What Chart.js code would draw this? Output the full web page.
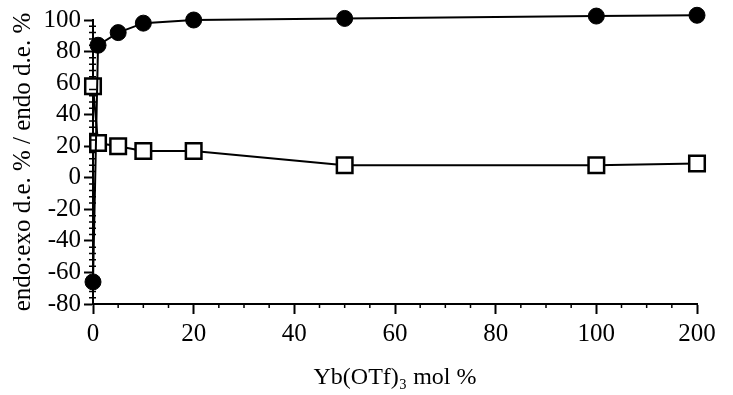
<!DOCTYPE html>
<html>
<head>
<meta charset="utf-8">
<script src="https://cdn.jsdelivr.net/npm/chart.js@4"></script>
<style>
  html, body { margin: 0; padding: 0; background: #fff; }
  #wrap { width: 733px; height: 395px; }
</style>
</head>
<body>
<div id="wrap"><canvas id="chart"></canvas></div>
<script>
// 数据
const molPercent = [0, 1, 5, 10, 20, 50, 100, 200];
const endoExoDe = [-66, 84, 92, 98, 100, 101, 102.5, 103];
const endoDe = [58, 22, 20, 17, 17, 8, 8, 9];
const xTickLabels = ['0', '20', '40', '60', '80', '100', '200'];
const yTickStep = 20;

// x 轴在 100 之后压缩（100 -> 200 画在 100 -> 120 的位置）
function toAxis(x) {
    return x <= 100 ? x : 100 + (x - 100) / 5;
}

function points(values) {
    return molPercent.map(function(x, i) {
        return { x: toAxis(x), y: values[i] };
    });
}

const serif = 'Liberation Serif, Times New Roman, serif';

// 小刻度
const minorTicks = {
    id: 'minorTicks',
    afterDraw: function(chart) {
        const ctx = chart.ctx;
        const xs = chart.scales.x;
        const ys = chart.scales.y;
        ctx.save();
        ctx.strokeStyle = '#000';
        ctx.lineWidth = 1.5;
        ctx.beginPath();
        for (let v = 0; v <= 120; v += 5) {
            if (v % 20 === 0) continue;
            const px = xs.getPixelForValue(v);
            ctx.moveTo(px, xs.top);
            ctx.lineTo(px, xs.top + 4);
        }
        for (let v = -80; v <= 100; v += 4) {
            if (v % 20 === 0) continue;
            const py = ys.getPixelForValue(v);
            ctx.moveTo(ys.right - 4, py);
            ctx.lineTo(ys.right + 3, py);
        }
        ctx.stroke();
        ctx.restore();
    }
};

new Chart(document.getElementById('chart'), {
    type: 'scatter',
    data: {
        datasets: [
            {
                label: 'endo:exo d.e. %',
                data: points(endoExoDe),
                showLine: true,
                clip: false,
                borderColor: '#000',
                borderWidth: 2,
                backgroundColor: '#000',
                pointStyle: 'circle',
                pointRadius: 8,
                pointBorderWidth: 1,
                pointBorderColor: '#000',
                pointBackgroundColor: '#000'
            },
            {
                label: 'endo d.e. %',
                data: points(endoDe),
                showLine: true,
                clip: false,
                borderColor: '#000',
                borderWidth: 2,
                backgroundColor: '#fff',
                pointStyle: 'rect',
                pointRadius: 11,
                pointBorderWidth: 2.5,
                pointBorderColor: '#000',
                pointBackgroundColor: '#fff'
            }
        ]
    },
    options: {
        responsive: true,
        maintainAspectRatio: false,
        animation: false,
        layout: { padding: { top: 20, right: 36, left: 0, bottom: 0 } },
        plugins: {
            legend: { display: false },
            tooltip: { enabled: false }
        },
        scales: {
            x: {
                type: 'linear',
                min: 0,
                max: 120,
                afterBuildTicks: function(scale) {
                    scale.ticks = xTickLabels.map(function(l, i) {
                        return { value: i * 20 };
                    });
                },
                afterFit: function(scale) {
                    scale.height = 91;
                },
                ticks: {
                    color: '#000',
                    font: { family: serif, size: 25 },
                    padding: 5,
                    maxRotation: 0,
                    autoSkip: false,
                    callback: function(value, index) {
                        return xTickLabels[index];
                    }
                },
                grid: {
                    drawOnChartArea: false,
                    tickLength: 10,
                    tickColor: '#000',
                    tickWidth: 2
                },
                border: { display: true, color: '#000', width: 2 },
                title: {
                    display: true,
                    text: 'Yb(OTf)\u2083 mol %',
                    color: '#000',
                    font: { family: serif, size: 24 },
                    padding: { top: 0, bottom: 3 }
                }
            },
            y: {
                type: 'linear',
                min: -80,
                max: 100,
                afterFit: function(scale) {
                    scale.width = 93;
                },
                ticks: {
                    stepSize: yTickStep,
                    color: '#000',
                    font: { family: serif, size: 25 },
                    padding: 3,
                    autoSkip: false
                },
                grid: {
                    drawOnChartArea: false,
                    tickLength: 9,
                    tickColor: '#000',
                    tickWidth: 2
                },
                border: { display: true, color: '#000', width: 2 },
                title: {
                    display: true,
                    text: 'endo:exo d.e. % / endo d.e. %',
                    color: '#000',
                    font: { family: serif, size: 25 },
                    padding: { top: 8, bottom: 0 }
                }
            }
        }
    },
    plugins: [minorTicks]
});
</script>
</body>
</html>
